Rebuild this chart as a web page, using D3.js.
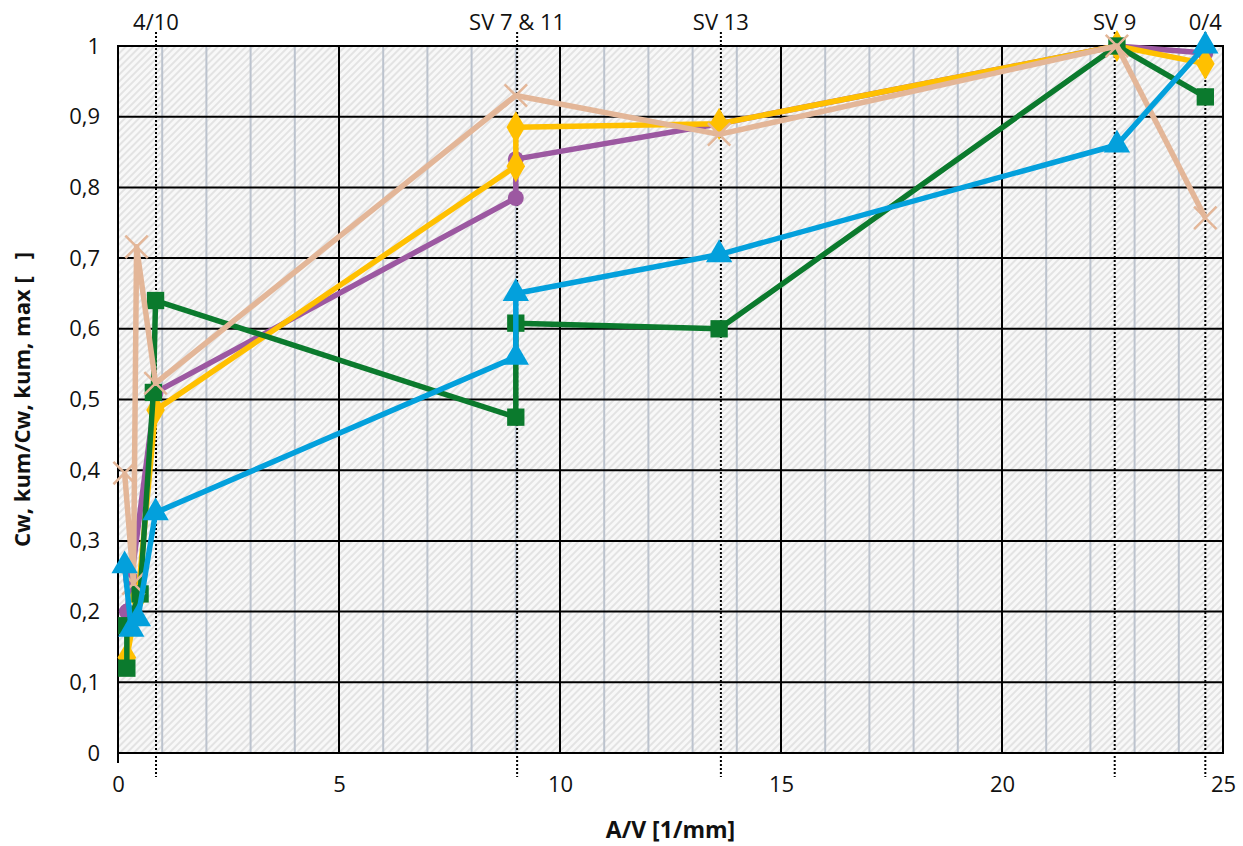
<!DOCTYPE html>
<html>
<head>
<meta charset="utf-8">
<script src="https://cdn.jsdelivr.net/npm/d3@7"></script>
<style>
    body { margin: 0; background: #fff; }
    text { font-family: "Open Sans", "Noto Sans", sans-serif; fill: #111; }
</style>
</head>
<body>
<div id="chart"></div>
<script>
// region data
const purple = [[0.2, 0.2], [0.3, 0.245], [0.85, 0.51], [9, 0.785], [9, 0.84], [13.6, 0.89], [22.6, 1.0], [24.6, 0.99]];
const yellow = [[0.2, 0.135], [0.45, 0.22], [0.85, 0.485], [9, 0.83], [9, 0.885], [13.6, 0.89], [22.6, 1.0], [24.6, 0.975]];
const green = [[0.2, 0.12], [0.2, 0.18], [0.5, 0.225], [0.8, 0.51], [0.85, 0.64], [9, 0.475], [9, 0.608], [13.6, 0.6], [22.6, 1.0], [24.6, 0.928]];
const tan = [[0.15, 0.396], [0.35, 0.24], [0.42, 0.716], [0.85, 0.523], [9, 0.93], [13.6, 0.875], [22.6, 1.0], [24.6, 0.757]];
const blue = [[0.15, 0.265], [0.3, 0.175], [0.45, 0.19], [0.85, 0.34], [9, 0.56], [9, 0.65], [13.6, 0.705], [22.6, 0.86], [24.6, 1.0]];

const markerLines = [0.86, 9.03, 13.64, 22.55, 24.6];
const markerLabels = ['4/10', 'SV 7 & 11', 'SV 13', 'SV 9', '0/4'];

const xTicks = [0, 5, 10, 15, 20, 25];
const yTicks = [0, 0.1, 0.2, 0.3, 0.4, 0.5, 0.6, 0.7, 0.8, 0.9, 1];
// endregion

let w = 1243,
    h = 846,
    mL = 118, mT = 46, mR = 20, mB = 93,
    Mw = w - mL - mR,
    Mh = h - mT - mB;

let svg = d3.select('#chart')
    .append('svg')
    .attr('width', w)
    .attr('height', h);

let defs = svg.append('defs');
let pat = defs.append('pattern')
    .attr('id', 'hatch')
    .attr('patternUnits', 'userSpaceOnUse')
    .attr('width', 5)
    .attr('height', 5)
    .attr('patternTransform', 'rotate(45)');
pat.append('rect').attr('width', 5).attr('height', 5).attr('fill', '#f8f8f8');
pat.append('line')
    .attr('x1', 1).attr('x2', 1).attr('y1', 0).attr('y2', 5)
    .attr('stroke', '#e3e3e3').attr('stroke-width', 2);

let g = svg.append('g').attr('transform', `translate(${mL},${mT})`);

const x = d3.scaleLinear().domain([0, 25]).range([0, Mw]);
const y = d3.scaleLinear().domain([0, 1]).range([Mh, 0]);

g.append('rect')
    .attr('width', Mw)
    .attr('height', Mh)
    .attr('fill', 'url(#hatch)');

// minor vertical grid
g.append('g')
    .selectAll('line')
    .data(d3.range(1, 25).filter(v => v % 5 !== 0))
    .enter().append('line')
    .attr('x1', d => x(d)).attr('x2', d => x(d))
    .attr('y1', 0).attr('y2', Mh)
    .attr('stroke', '#bcc3ce')
    .attr('stroke-width', 2);

// major grid
g.append('g')
    .selectAll('line')
    .data(yTicks)
    .enter().append('line')
    .attr('x1', 0).attr('x2', Mw)
    .attr('y1', d => y(d)).attr('y2', d => y(d))
    .attr('stroke', '#000')
    .attr('stroke-width', 2);
g.append('g')
    .selectAll('line')
    .data(xTicks)
    .enter().append('line')
    .attr('x1', d => x(d)).attr('x2', d => x(d))
    .attr('y1', 0).attr('y2', Mh)
    .attr('stroke', '#000')
    .attr('stroke-width', 2);

g.append('rect')
    .attr('width', Mw)
    .attr('height', Mh)
    .attr('fill', 'none')
    .attr('stroke', '#000')
    .attr('stroke-width', 2);

// y axis stub below the origin
g.append('line')
    .attr('x1', x(0)).attr('x2', x(0))
    .attr('y1', Mh).attr('y2', Mh + 10)
    .attr('stroke', '#000')
    .attr('stroke-width', 2);

// axes (labels only)
let fmt = d => d === 0 || d === 1 ? String(d) : d3.format('.1f')(d).replace('.', ',');

let yAxis = g.append('g')
    .call(d3.axisLeft(y).tickValues(yTicks).tickFormat(fmt).tickSize(0).tickPadding(18));
yAxis.select('.domain').remove();
yAxis.selectAll('text').style('font-size', '22px').attr('fill', '#111');

let xAxis = g.append('g')
    .attr('transform', `translate(0,${Mh})`)
    .call(d3.axisBottom(x).tickValues(xTicks).tickSize(0).tickPadding(23));
xAxis.select('.domain').remove();
xAxis.selectAll('text').style('font-size', '22px').attr('fill', '#111');

// dotted marker lines + labels
g.append('g')
    .selectAll('line')
    .data(markerLines)
    .enter().append('line')
    .attr('x1', d => x(d)).attr('x2', d => x(d))
    .attr('y1', -14).attr('y2', Mh + 24)
    .attr('stroke', '#000')
    .attr('stroke-width', 2)
    .attr('stroke-dasharray', '2,2');

g.append('g')
    .selectAll('text')
    .data(markerLines)
    .enter().append('text')
    .attr('x', d => x(d))
    .attr('y', -16)
    .attr('text-anchor', 'middle')
    .style('font-size', '22px')
    .text((d, i) => markerLabels[i]);

// series
let series = [
    {data: purple, color: '#9c58a1', shape: d3.symbolCircle, size: 200},
    {data: yellow, color: '#ffc000', shape: d3.symbolDiamond, size: 300},
    {data: green, color: '#0b7a2d', shape: d3.symbolSquare, size: 300},
    {data: tan, color: '#e3b698', shape: d3.symbolX, size: 330},
    {data: blue, color: '#03a0dc', shape: d3.symbolTriangle, size: 300},
];

let line = d3.line().x(d => x(d[0])).y(d => y(d[1]));

series.forEach(s => {
    g.append('path')
        .datum(s.data)
        .attr('d', line)
        .attr('fill', 'none')
        .attr('stroke', s.color)
        .attr('stroke-width', 5.5)
        .attr('stroke-linejoin', 'round');
    g.append('g')
        .selectAll('path')
        .data(s.data)
        .enter().append('path')
        .attr('transform', d => `translate(${x(d[0])},${y(d[1])})`)
        .attr('d', d3.symbol().type(s.shape).size(s.size))
        .attr('fill', s.shape === d3.symbolX ? 'none' : s.color)
        .attr('stroke', s.shape === d3.symbolX ? s.color : 'none')
        .attr('stroke-width', 2.5);
});

// axis titles
svg.append('text')
    .attr('x', mL + Mw / 2)
    .attr('y', 838)
    .attr('text-anchor', 'middle')
    .style('font-size', '23px')
    .style('font-weight', 'bold')
    .text('A/V [1/mm]');

svg.append('text')
    .attr('transform', `translate(30,${mT + Mh / 2}) rotate(-90)`)
    .attr('text-anchor', 'middle')
    .style('font-size', '22px')
    .style('font-weight', 'bold')
    .text('Cw, kum/Cw, kum, max [\u00a0\u00a0\u00a0]');
</script>
</body>
</html>
